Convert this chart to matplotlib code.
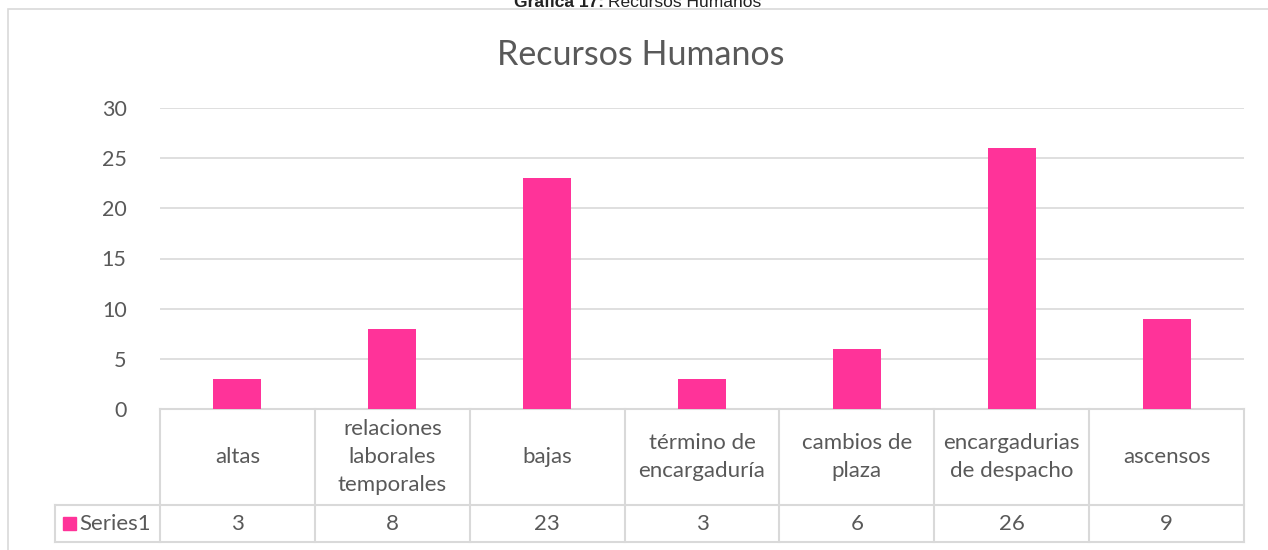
import matplotlib.pyplot as plt
from matplotlib.patches import Rectangle

categories = ["altas", "relaciones\nlaborales\ntemporales", "bajas", "término de\nencargaduría",
              "cambios de\nplaza", "encargadurias\nde despacho", "ascensos"]
values = [3, 8, 23, 3, 6, 26, 9]
series_name = "Series1"
yticks = [0, 5, 10, 15, 20, 25, 30]

pink = "#FF3399"
grid_c = "#D9D9D9"
txt_c = "#595959"
plt.rcParams['font.family'] = ['Lato', 'DejaVu Sans']

W, H = 1268, 550
fig = plt.figure(figsize=(W / 100, H / 100), dpi=100)

def fx(px):
    return px / W

def fy(py):
    return 1 - py / H

# outer chart frame
fig.patches.append(Rectangle((fx(8), fy(560)), fx(1280) - fx(8), fy(9) - fy(560),
                             transform=fig.transFigure, fill=False, edgecolor=grid_c, lw=1.2))

# caption above the chart (cut off at the top edge, as in the source)
fig.text(fx(604), fy(2.5), "Gráfica 17:", ha='right', va='center', fontsize=12.5,
         fontweight='bold', family='Liberation Sans', color='#222222')
fig.text(fx(608), fy(2.5), "Recursos Humanos", ha='left', va='center', fontsize=12.5,
         family='Liberation Sans', color='#222222')

ax = fig.add_axes([fx(160), fy(409), fx(1244) - fx(160), fy(108) - fy(409)])
x = list(range(len(values)))
ax.bar(x, values, width=0.31, color=pink, zorder=3)
ax.set_xlim(-0.5, len(values) - 0.5)
ax.set_ylim(0, 30)
ax.set_yticks(yticks)
ax.set_xticks([])
ax.grid(axis='y', color=grid_c, lw=1.2, zorder=0)
for s in ax.spines.values():
    s.set_visible(False)
ax.tick_params(axis='y', length=0, pad=24, labelsize=15.5, labelcolor=txt_c)

fig.text(fx(641), fy(55), "Recursos Humanos", ha='center', va='center', fontsize=24.5, color=txt_c)

# data table under the axis
pxu = 301 / 30.0
y_mid = -(505 - 409) / pxu
y_bot = -(542 - 409) / pxu
x_left = -0.5 - 105 / 154.86
n = len(values)
lk = dict(color=grid_c, lw=1.5, clip_on=False, zorder=1)
ax.plot([-0.5, n - 0.5], [0, 0], **lk)
ax.plot([x_left, n - 0.5], [y_mid, y_mid], **lk)
ax.plot([x_left, n - 0.5], [y_bot, y_bot], **lk)
ax.plot([x_left, x_left], [y_mid, y_bot], **lk)
for i in range(n + 1):
    ax.plot([i - 0.5, i - 0.5], [0, y_bot], **lk)

for i, (c, v) in enumerate(zip(categories, values)):
    ax.text(i, y_mid / 2, c, ha='center', va='center', fontsize=16, color=txt_c,
            linespacing=1.5, clip_on=False)
    ax.text(i, (y_mid + y_bot) / 2, str(v), ha='center', va='center', fontsize=16,
            color=txt_c, clip_on=False)

# legend key in the table
ax.add_patch(Rectangle((-0.5 - 97 / 154.86, (y_mid + y_bot) / 2 - 0.65), 13 / 154.86, 1.3,
                       color=pink, clip_on=False))
ax.text(-0.5 - 81 / 154.86, (y_mid + y_bot) / 2, series_name, ha='left', va='center',
        fontsize=16, color=txt_c, clip_on=False)

fig.savefig("out.png", dpi=100)
